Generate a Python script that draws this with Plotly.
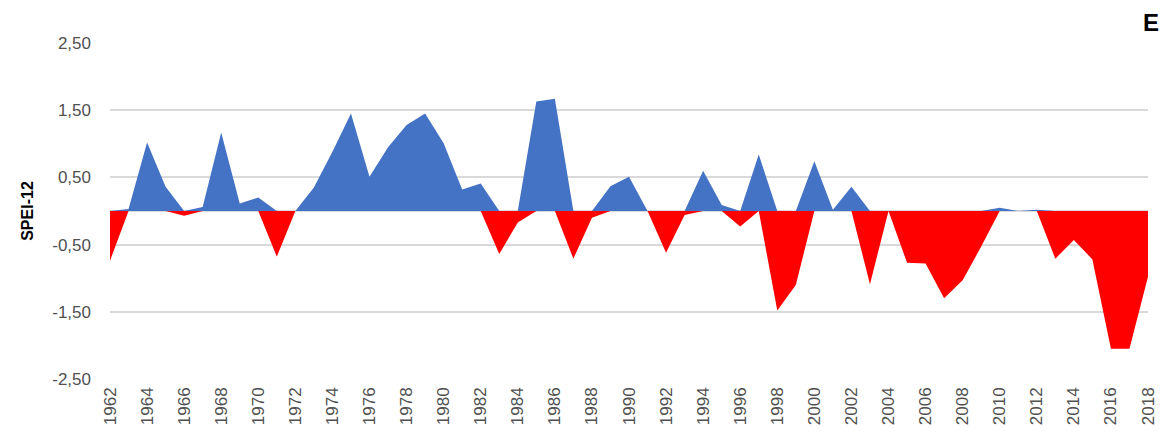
import plotly.graph_objects as go

years = list(range(1962, 2019))
spei = [
    -0.74, 0.03, 1.02, 0.36, -0.07, 0.06, 1.17, 0.11, 0.20, -0.68,
    0.00, 0.35, 0.88, 1.45, 0.51, 0.95, 1.28, 1.45, 1.01, 0.32,
    0.41, -0.64, -0.17, 1.63, 1.67, -0.71, -0.10, 0.37, 0.51, 0.00,
    -0.62, -0.06, 0.60, 0.09, -0.23, 0.84, -1.48, -1.10, 0.74, 0.02,
    0.36, -1.09, 0.00, -0.77, -0.78, -1.30, -1.03, -0.53, 0.05, 0.00,
    0.02, -0.71, -0.43, -0.72, -2.05, -2.05, -0.98,
]
y_tickvals = [2.5, 1.5, 0.5, -0.5, -1.5, -2.5]
y_ticktext = ["2,50", "1,50", "0,50", "-0,50", "-1,50", "-2,50"]
x_tickvals = list(range(1962, 2019, 2))

pos = [max(v, 0) for v in spei]
neg = [min(v, 0) for v in spei]

W, H = 1169, 437
ML, MR, MT, MB = 110, 11, 43, 58

fig = go.Figure()
fig.add_trace(go.Scatter(x=years, y=pos, mode="lines", fill="tozeroy",
                         line=dict(width=0, color="#4472C4"),
                         fillcolor="#4472C4", showlegend=False, hoverinfo="skip"))
fig.add_trace(go.Scatter(x=years, y=neg, mode="lines", fill="tozeroy",
                         line=dict(width=0, color="#FF0000"),
                         fillcolor="#FF0000", showlegend=False, hoverinfo="skip"))

fig.update_layout(
    width=W, height=H,
    margin=dict(l=ML, r=MR, t=MT, b=MB),
    plot_bgcolor="white", paper_bgcolor="white",
    font=dict(family="Liberation Sans, Arial, sans-serif", color="#505050", size=17),
    xaxis=dict(range=[1962, 2018], tickvals=x_tickvals, tickangle=-90,
               showgrid=False, zeroline=False, showline=False,
               tickfont=dict(size=17, color="#505050"), ticks="",
               ticklabelstandoff=4),
    yaxis=dict(range=[-2.5, 2.5], tickvals=y_tickvals, ticktext=y_ticktext,
               showgrid=True, gridcolor="#D9D9D9", gridwidth=1.5,
               zeroline=True, zerolinecolor="#D9D9D9", zerolinewidth=1.5,
               showline=False, ticks="", ticklabelstandoff=18,
               tickfont=dict(size=17, color="#505050"),
               title=dict(text="<b>SPEI-12</b>", standoff=14,
                          font=dict(size=16, color="#000000"))),
)
fig.add_annotation(text="<b>E</b>", xref="paper", yref="paper",
                   x=(1161 - ML) / (W - ML - MR), y=1 + (MT - 22) / (H - MT - MB),
                   xanchor="center", yanchor="middle", showarrow=False,
                   font=dict(size=24, color="#000000"))

fig.write_html("out.html", config={"displayModeBar": False},
               post_script="document.body.style.margin='0';")
